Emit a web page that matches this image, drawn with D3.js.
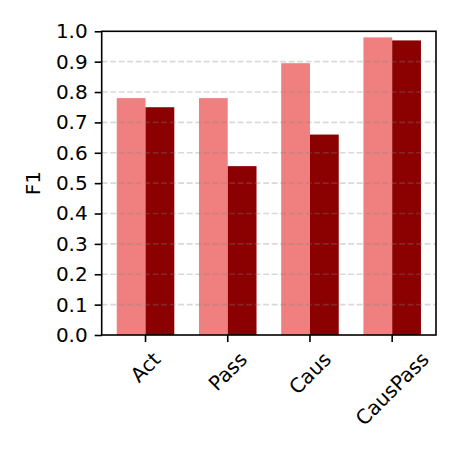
<!DOCTYPE html>
<html>
<head>
<meta charset="utf-8">
<script src="https://cdn.jsdelivr.net/npm/d3@7"></script>
<style>
  body { margin: 0; background: #fff; }
  text { font-family: "DejaVu Sans", sans-serif; }
</style>
</head>
<body>
<div id="chart"></div>
<script>
// data
const categories = ["Act", "Pass", "Caus", "CausPass"];
const seriesNames = ["A", "B"];
const valuesA = [0.78, 0.78, 0.895, 0.98];
const valuesB = [0.75, 0.556, 0.66, 0.97];
const yTicks = [0.0, 0.1, 0.2, 0.3, 0.4, 0.5, 0.6, 0.7, 0.8, 0.9, 1.0];
const colors = ["#f08080", "#8b0000"];

const width = 459;
const height = 459;
const margin = { top: 31.3, right: 23, bottom: 124, left: 101.7 };
const innerW = width - margin.left - margin.right;
const innerH = height - margin.top - margin.bottom;

const svg = d3.select("#chart")
  .append("svg")
  .attr("width", width)
  .attr("height", height);

const g = svg.append("g")
  .attr("transform", `translate(${margin.left},${margin.top})`);

const x = d3.scaleBand()
  .domain(categories)
  .range([0, innerW])
  .paddingInner(0.3)
  .paddingOuter(0.183);

const xs = d3.scaleBand()
  .domain(seriesNames)
  .range([0, x.bandwidth()])
  .padding(0);

const y = d3.scaleLinear()
  .domain([0, 1])
  .range([innerH, 0]);

const rows = categories.map((c, i) => ({ cat: c, vals: [valuesA[i], valuesB[i]] }));

// bars
const groups = g.selectAll(".grp")
  .data(rows)
  .enter().append("g")
  .attr("transform", d => `translate(${x(d.cat)},0)`);

groups.selectAll("rect")
  .data(d => d.vals.map((v, k) => ({ k: k, v: v })))
  .enter().append("rect")
  .attr("x", d => xs(seriesNames[d.k]))
  .attr("y", d => y(d.v))
  .attr("width", xs.bandwidth())
  .attr("height", d => innerH - y(d.v))
  .attr("fill", d => colors[d.k]);

// dashed grid on top of bars
g.selectAll(".grid")
  .data(yTicks.slice(1, -1))
  .enter().append("line")
  .attr("x1", 0)
  .attr("x2", innerW)
  .attr("y1", d => y(d))
  .attr("y2", d => y(d))
  .attr("stroke", "rgba(128,128,128,0.3)")
  .attr("stroke-width", 1.6)
  .attr("stroke-dasharray", "5.9,2.6");

// frame
g.append("rect")
  .attr("x", 0)
  .attr("y", 0)
  .attr("width", innerW)
  .attr("height", innerH)
  .attr("fill", "none")
  .attr("stroke", "#000")
  .attr("stroke-width", 1.6);

// y axis
const yAxis = g.append("g")
  .call(d3.axisLeft(y).tickValues(yTicks).tickFormat(d3.format(".1f")).tickSize(7).tickPadding(7));
yAxis.select(".domain").remove();
yAxis.selectAll(".tick line").attr("stroke", "#000").attr("stroke-width", 1.6);
yAxis.selectAll(".tick text")
  .attr("fill", "#000")
  .style("font-size", "20px")
  .style("font-family", "DejaVu Sans, sans-serif");

// x axis ticks
const xAxis = g.append("g")
  .attr("transform", `translate(0,${innerH})`)
  .call(d3.axisBottom(x).tickSize(7).tickFormat(""));
xAxis.select(".domain").remove();
xAxis.selectAll(".tick line").attr("stroke", "#000").attr("stroke-width", 1.6);

// rotated x labels, bbox centred under the tick
const fs = 20;
const labelTop = innerH + 7 + 7;
categories.forEach(c => {
  const t = g.append("text")
    .attr("text-anchor", "middle")
    .attr("dominant-baseline", "central")
    .style("font-size", fs + "px")
    .attr("fill", "#000")
    .text(c);
  const L = t.node().getComputedTextLength();
  const half = (L + fs * 0.95) / 2 * Math.SQRT1_2;
  const cx = x(c) + x.bandwidth() / 2;
  const cy = labelTop + half;
  t.attr("transform", `translate(${cx},${cy}) rotate(-45)`);
});

// y label
svg.append("text")
  .attr("transform", `translate(33,${margin.top + innerH / 2}) rotate(-90)`)
  .attr("text-anchor", "middle")
  .attr("dominant-baseline", "central")
  .style("font-size", "20px")
  .attr("fill", "#000")
  .text("F1");
</script>
</body>
</html>
